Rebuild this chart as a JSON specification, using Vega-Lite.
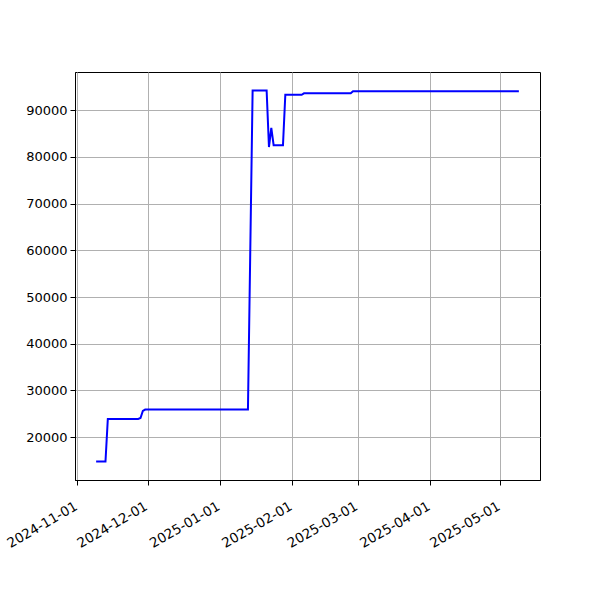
{
  "$schema": "https://vega.github.io/schema/vega-lite/v6.json",
  "width": 465,
  "height": 408,
  "autosize": {"type": "none"},
  "padding": {"left": 75, "top": 72, "right": 60, "bottom": 120},
  "background": "white",
  "config": {
    "view": {"stroke": "black", "strokeWidth": 1},
    "font": "DejaVu Sans",
    "axis": {
      "labelFont": "DejaVu Sans",
      "labelFontSize": 13,
      "labelColor": "black",
      "domainColor": "black",
      "domainWidth": 1,
      "tickColor": "black",
      "tickSize": 5,
      "tickWidth": 1,
      "labelPadding": 3,
      "labelOverlap": false,
      "labelFlush": false,
      "gridColor": "#b0b0b0",
      "gridWidth": 1,
      "gridOpacity": 1,
      "title": null
    }
  },
  "data": {
    "values": [
      {"date": "2024-11-09", "value": 14800},
      {"date": "2024-11-13", "value": 14800},
      {"date": "2024-11-14", "value": 23900},
      {"date": "2024-11-27", "value": 23900},
      {"date": "2024-11-28", "value": 24100},
      {"date": "2024-11-29", "value": 25600},
      {"date": "2024-11-30", "value": 25900},
      {"date": "2025-01-13", "value": 25900},
      {"date": "2025-01-15", "value": 94200},
      {"date": "2025-01-21", "value": 94200},
      {"date": "2025-01-22", "value": 82100},
      {"date": "2025-01-23", "value": 86200},
      {"date": "2025-01-24", "value": 82500},
      {"date": "2025-01-28", "value": 82500},
      {"date": "2025-01-29", "value": 93300},
      {"date": "2025-02-05", "value": 93300},
      {"date": "2025-02-06", "value": 93600},
      {"date": "2025-02-26", "value": 93600},
      {"date": "2025-02-27", "value": 94050},
      {"date": "2025-05-09", "value": 94050}
    ]
  },
  "mark": {"type": "line", "color": "#0000ff", "strokeWidth": 2, "clip": true},
  "encoding": {
    "x": {
      "field": "date",
      "type": "temporal",
      "scale": {
        "type": "utc",
        "domain": [
          {"year": 2024, "month": 10, "date": 30, "hours": 22, "minutes": 48, "utc": true},
          {"year": 2025, "month": 5, "date": 18, "hours": 1, "minutes": 12, "utc": true}
        ]
      },
      "axis": {
        "values": [
          {"year": 2024, "month": 11, "date": 1, "utc": true},
          {"year": 2024, "month": 12, "date": 1, "utc": true},
          {"year": 2025, "month": 1, "date": 1, "utc": true},
          {"year": 2025, "month": 2, "date": 1, "utc": true},
          {"year": 2025, "month": 3, "date": 1, "utc": true},
          {"year": 2025, "month": 4, "date": 1, "utc": true},
          {"year": 2025, "month": 5, "date": 1, "utc": true}
        ],
        "labelExpr": "utcFormat(datum.value, '%Y-%m-%d')",
        "labelAngle": -30,
        "labelAlign": "right",
        "labelBaseline": "top",
        "labelFontSize": 13.5,
        "labelPadding": 14,
        "labelOffset": -5,
        "grid": true
      }
    },
    "y": {
      "field": "value",
      "type": "quantitative",
      "scale": {"domain": [10830, 98170], "zero": false, "nice": false},
      "axis": {
        "values": [20000, 30000, 40000, 50000, 60000, 70000, 80000, 90000],
        "format": "d",
        "grid": true
      }
    }
  }
}
